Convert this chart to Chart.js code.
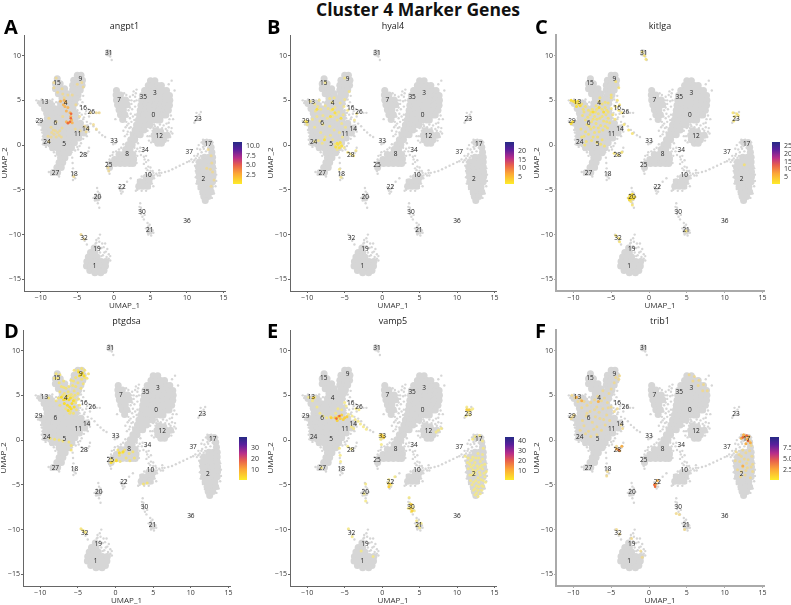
<!DOCTYPE html>
<html>
<head>
<meta charset="utf-8">
<script src="https://cdn.jsdelivr.net/npm/chart.js@4"></script>
<style>
  html, body { margin: 0; background: #fff; width: 791px; height: 605px; overflow: hidden; }
  canvas { position: absolute; }
  .suptitle { position: absolute; left: 265px; width: 306px; top: -3px; text-align: center; font: 700 17.5px "Open Sans", sans-serif; color: #111; white-space: nowrap; }
  .tag { position: absolute; font: 700 20px "Open Sans", sans-serif; color: #000; line-height: 20px; }
</style>
</head>
<body>
<div class="suptitle">Cluster 4 Marker Genes</div>
<script>
// 1. Data in UMAP units

const clusterIds = ["31","9","15","3","35","7","13","4","16","26","0","23","29","6","14","11","12","33","24","17","5","34","37","28","8","25","27","18","10","2","22","20","30","36","21","32","19","1"];
const clusterX = [-0.7,-4.6,-7.8,5.6,4.0,0.7,-9.45,-6.6,-4.2,-3.1,5.4,11.5,-10.2,-8,-3.85,-4.95,6.2,0,-9.15,12.9,-6.8,4.25,10.3,-4.2,1.8,-0.7,-8,-5.45,4.65,12.25,1.1,-2.25,3.85,10,4.9,-4.1,-2.3,-2.65];
const clusterY = [10.23,7.4,6.9,5.77,5.4,5,4.8,4.65,4.1,3.65,3.4,2.95,2.65,2.4,1.8,1.2,1,0.45,0.3,0.1,0.07,-0.55,-0.75,-1.1,-1.05,-2.2,-3.1,-3.25,-3.4,-3.8,-4.75,-5.8,-7.5,-8.5,-9.5,-10.4,-11.6,-13.5];

// solid parts of the clusters
const grayBlob = [
  // 0 and 3
  [5,7.2],[5.6,7.2],[4.7,6.65],[5.35,6.65],[6,6.65],[6.5,6.65],[4.2,6.1],[4.85,6.1],[5.5,6.1],[6.15,6.1],[6.8,6.1],[7.2,6.1],
  [3.9,5.55],[4.55,5.55],[5.2,5.55],[5.85,5.55],[6.5,5.55],[7.15,5.55],[7.6,5.55],[3.8,5],[4.45,5],[5.1,5],[5.75,5],[6.4,5],[7.05,5],[7.65,5],
  [3.7,4.45],[4.35,4.45],[5,4.45],[5.65,4.45],[6.3,4.45],[6.95,4.45],[7.6,4.45],[3.6,3.9],[4.25,3.9],[4.9,3.9],[5.55,3.9],[6.2,3.9],[6.85,3.9],[7.45,3.9],
  [3.5,3.35],[4.15,3.35],[4.8,3.35],[5.45,3.35],[6.1,3.35],[6.75,3.35],[7.1,3.35],[3.35,2.8],[4,2.8],[4.65,2.8],[5.3,2.8],[5.95,2.8],[6.3,2.8],
  [3.1,2.25],[3.75,2.25],[4.4,2.25],[4.9,2.25],[2.9,1.7],[3.55,1.7],[4.1,1.7],[2.65,1.15],[3.2,1.15],[3.6,1.15],[2.3,0.6],[2.85,0.6],[1.95,0.05],[2.5,0.05],
  // 8 and 25
  [1.6,-0.5],[2.2,-0.5],[0.7,-1.05],[1.3,-1.05],[1.95,-1.05],[2.6,-1.05],[0.1,-1.6],[0.75,-1.6],[1.4,-1.6],[2.05,-1.6],[2.7,-1.6],
  [-0.4,-2.05],[0.2,-2.05],[0.85,-2.05],[1.5,-2.05],[2.15,-2.05],[2.6,-2.05],[-0.6,-2.5],
  // 7
  [0.35,6.1],[0.3,5.6],[0.9,5.6],[0.35,5.05],[1,5.05],[1.6,5.05],[0.5,4.5],[1.15,4.5],[1.8,4.5],[0.7,3.95],[1.3,3.95],[0.9,3.4],[1.5,3.4],[1.2,2.85],
  // 12
  [5.8,1.6],[6.4,1.5],[5.5,1.1],[6.1,1.1],[6.7,1.1],[7.3,1.1],[5.6,0.6],[6.2,0.6],[6.8,0.6],[6,0.2],[6.5,0.2],
  // 2 and 17
  [12.5,0.3],[13.1,0.3],[13.3,-0.25],[13.4,-0.8],[12.4,-1.35],[13,-1.35],[13.5,-1.35],[11.7,-1.9],[12.35,-1.9],[13,-1.9],[13.5,-1.9],
  [11.55,-2.45],[12.2,-2.45],[12.85,-2.45],[13.5,-2.45],[11.6,-3],[12.25,-3],[12.9,-3],[13.55,-3],[11.65,-3.55],[12.3,-3.55],[12.95,-3.55],[13.55,-3.55],
  [11.7,-4.1],[12.35,-4.1],[13,-4.1],[13.5,-4.1],[11.9,-4.65],[12.55,-4.65],[13.2,-4.65],[12.15,-5.2],[12.75,-5.2],[13.3,-5.2],[12.3,-5.75],[12.9,-5.75],[12.5,-6.2],
  // 10
  [4.4,-3.6],[5,-3.6],[3.6,-4.1],[4.2,-4.1],[4.8,-4.1],[3.4,-4.6],[4,-4.6],[4.6,-4.6],
  // 20, 31, 21
  [-2.3,-5.9],[-0.75,10.3],[4.9,-9.6],
  // 1
  [-2.7,-11.5],[-3.2,-12],[-2.6,-12],[-3.5,-12.5],[-2.9,-12.5],[-2.3,-12.5],[-3.7,-13],[-3.05,-13],[-2.4,-13],[-1.75,-13],[-1.1,-13],
  [-3.75,-13.5],[-3.1,-13.5],[-2.45,-13.5],[-1.8,-13.5],[-1.15,-13.5],[-3.3,-14],[-2.65,-14],[-2,-14],[-1.35,-14],[-2.6,-14.25],[-1.8,-14.25],
  // 9
  [-5,7.8],[-4.5,7.8],[-5.5,7.25],[-4.85,7.25],[-4.3,7.25],[-5.65,6.7],[-5,6.7],[-4.35,6.7],[-5.65,6.15],[-5,6.15],[-4.6,6.15],[-5.5,5.6],[-4.9,5.6],
  // 15
  [-7.75,7.4],[-8,6.85],[-7.35,6.85],[-8,6.3],[-7.35,6.3],[-6.75,6.3],[-7.6,5.75],[-6.95,5.75],[-6.4,5.75],
  // 4, 13, 6, 5 and the rest of the left mass
  [-7.1,5.2],[-6.45,5.2],[-5.8,5.2],[-5.15,5.2],[-9.9,4.65],[-9.25,4.65],[-8.7,4.65],[-7.3,4.65],[-6.65,4.65],[-6,4.65],[-5.35,4.65],
  [-9.5,4.1],[-8.85,4.1],[-8.2,4.1],[-7.55,4.1],[-6.9,4.1],[-6.25,4.1],[-5.6,4.1],[-9.2,3.55],[-8.55,3.55],[-7.9,3.55],[-7.25,3.55],[-6.6,3.55],[-5.95,3.55],[-5.3,3.55],
  [-9.1,3],[-8.45,3],[-7.8,3],[-7.15,3],[-6.5,3],[-5.85,3],[-5.3,3],[-9.8,2.45],[-9.15,2.45],[-8.5,2.45],[-7.85,2.45],[-7.2,2.45],[-6.55,2.45],[-5.9,2.45],[-5.25,2.45],[-4.6,2.45],
  [-9.45,1.9],[-8.8,1.9],[-8.15,1.9],[-7.5,1.9],[-6.85,1.9],[-6.2,1.9],[-5.55,1.9],[-4.9,1.9],[-4.25,1.9],[-3.8,1.9],
  [-9.3,1.35],[-8.65,1.35],[-8,1.35],[-7.35,1.35],[-6.7,1.35],[-6.05,1.35],[-5.4,1.35],[-4.75,1.35],[-4.1,1.35],
  [-9.3,0.8],[-8.65,0.8],[-8,0.8],[-7.35,0.8],[-6.7,0.8],[-6.05,0.8],[-5.4,0.8],[-4.8,0.8],[-9.3,0.25],[-8.65,0.25],[-8,0.25],[-7.35,0.25],[-6.7,0.25],[-6.05,0.25],[-5.4,0.25],
  [-8.4,-0.3],[-7.75,-0.3],[-7.1,-0.3],[-6.45,-0.3],[-5.8,-0.3],[-7.5,-0.85],[-6.9,-0.85],[-6.2,-0.85],[-7.3,-1.4],[-6.7,-1.4],[-7.5,-1.95],[-7,-1.95],[-7.8,-2.5],[-7.2,-2.5],[-8.3,-3.05],[-7.7,-3.05]
];

// thin tails and speckle around the clusters
const graySpeck = [
  [-5,3.9],[-4.6,4.4],[-4.3,4.8],[-4,4.3],[-3.8,3.8],[-4.4,3.4],[-4.8,3],[-4.2,2.9],[-3.7,2.6],[-3.4,3.2],[-4.6,5.1],[-4.2,5.5],
  [-5,4.6],[-4.7,3.6],[-4.4,4],[-4.1,3.1],[-3.9,3.5],[-3.5,4],[-4.9,3.3],[-4.3,2.5],[-3.6,2.2],[-3.4,1.5],[-3.7,1],[-4.2,0.7],[-4.5,0.2],[-4.7,-0.1],
  [-3.3,3.7],[-2.9,3.7],[-2.5,3.6],[-2.1,3.6],[-3.2,2.4],[-2.8,2.1],[-2.4,1.7],[-2,1.4],[-1.6,1.1],[-1.2,0.9],
  [-10.6,5],[-10.3,4.9],[-10.6,2.7],[-10.3,2.3],[-9.9,1.7],[-9.7,1],[-8.9,-0.1],
  [-10.4,4.7],[-9.9,5.1],[-9.3,5],[-8.8,5],[-8.2,4.6],[-7.9,4.8],[-8.4,5.1],[-9.8,1.4],[-9.8,0.6],[-9.7,0.1],[-9.3,-0.2],[-8.6,-0.5],[-8.2,-0.8],[-8,-1.2],[-5.3,-0.6],[-5,-0.2],
  [-5.8,-0.8],[-5.7,-1.4],[-5.65,-2],[-5.6,-2.6],[-5.55,-3.1],[-5.5,-3.5],[-5.3,-3.7],[-5.6,-3.9],[-5.4,-3.3],[-5.7,-3.4],
  [-4.9,-0.5],[-4.5,-0.8],[-4.2,-1],[-3.8,-1.2],[-3.5,-0.7],[-3.4,-0.3],[-3.7,-0.9],[-8.9,-3],[-8.6,-3.3],[-7.5,-3.5],[-7.7,-3.3],
  [0.2,2.9],[1.7,2.6],[1.9,3.2],[2,3.9],[2.4,4.6],[2.8,4.9],[2.5,4],[2.9,3.4],[2.1,5],[2.4,2.6],[2.1,1.9],[1.9,1.5],[2.6,3.2],[1.8,2.2],
  [2.2,5.4],[2.6,5.6],[3,5.8],[3.1,5],[2.9,4.3],[2.2,4.2],[2.3,3.5],[2.8,2.8],[2.2,3],[1.6,2],[2,2.4],[2.3,2],[1.8,1.2],[1.5,1],[2.3,1.4],[1.3,1.6],[3.1,6.2],[2.7,6],[1.7,5.6],[1.4,5.8],[2.4,5],[2.9,5.4],[2.1,4.6],
  [7.6,2.9],[7.2,2.4],[6.8,2.2],[6.3,2.3],[5.6,2.1],[5.3,1.6],[7.8,1.5],[7.7,0.9],[8,1.3],[4.9,1],[7.4,0.5],[8.3,6.1],[7.5,6.8],[7.9,7.2],
  [5.5,2.3],[5,1.9],[4.6,1.6],[5.4,1.9],[6,2],[6.6,1.9],[7.1,1.8],[7.5,2],[7.3,1.6],[7.9,1.9],[4.6,1],[4.8,0.5],[5.1,0.3],[7.5,2.5],[8.1,2.9],[7.8,3.3],
  [-0.7,-2.9],[-0.6,-3.2],[-1,-1.9],[-0.5,-1.2],[-0.1,-0.8],[0.4,0.4],[-0.2,0.5],[0.2,0.2],[-0.1,0.1],
  [-0.6,-1.6],[-0.2,-1.1],[0.3,-0.7],[0.7,-0.5],[1,-0.3],[1.3,0.1],[3,-1.4],[3.1,-2],[3.2,-1.2],[3,-0.7],[2.8,-0.3],
  [11.1,2.7],[11.5,2.9],[11.7,3.4],[11.3,3.6],[11.9,3.7],[11,2.5],[11.4,3.2],[11.8,2.9],
  [12.2,-0.2],[12,-0.8],[11.5,-1],[11.2,-1.5],[11.9,-1.2],[12.6,-0.7],[12.9,-0.3],[11,-1.7],[10.6,-1.6],[11.4,-0.4],
  [12.3,-0.4],[12.5,-0.1],[11.8,-0.5],[12.1,-1.5],[11.7,-1.4],[11.4,-1.2],[11,-1.2],[10.8,-1.9],[11.3,-1.9],[11.6,0],[12,0.3],[12.2,0.6],[12.7,0.6],[13.5,0.3],[11.1,-2.3],[11.2,-2.9],[11.2,-3.6],[11.3,-4.3],[11.6,-4.9],[11.9,-5.5],[13.9,-2.6],[14,-3.3],[14,-4],[13.9,-4.6],[13.7,-5.4],[13.4,-5.9],
  [3.3,0.2],[3.6,-0.3],[4,-0.7],[4.1,-1.3],[4.4,-1.9],[4.7,-2.4],[5,-2.9],[5.4,-3.1],[5.8,-3.2],[6.2,-3.1],[4.2,-1.6],[4.6,-2.8],[5.1,-3.3],[3,0.6],
  [3.2,-0.4],[3.5,-0.7],[3.7,-1.1],[4.4,-1.2],[4.7,-1.7],[4.1,-2.1],[4.4,-2.6],[5,-2.5],[5.3,-2.9],[4.8,-3.2],[5.5,-3.4],[6,-3.4],[6.3,-3.4],[6.2,-2.8],[3,-5.1],[3.3,-3.9],[3.8,-3.5],[5.4,-4.6],
  [6.5,-3.1],[7,-3],[7.5,-2.9],[8,-2.7],[8.5,-2.5],[9,-2.3],[9.5,-2.1],[10,-1.9],[10.3,-1.8],
  [3.2,-5],[3.8,-5.1],[4.4,-5.1],[4.9,-4.8],[5.2,-4.3],[5.5,-3.7],
  [1.1,-4.9],[1,-5.4],[0.7,-4.7],[1.4,-4.5],[1.8,-4.1],[2.3,-3.7],[0.9,-5.1],[1.2,-5.2],[0.8,-4.9],[1.3,-4.8],
  [-2.2,-5.2],[-2.3,-4.8],[-2.2,-6.5],[-2,-7],[-2.8,-5.9],[-1.8,-5.8],[-2.5,-5.5],[-2,-5.4],[-2.6,-6.2],
  [3.6,-6.5],[3.7,-7],[3.8,-7.5],[3.9,-8],[4.1,-8.3],[3.5,-7.3],[4.2,-7.8],[3.7,-7.7],[3.5,-6.9],
  [4.6,-8.7],[4.7,-9.1],[4.4,-9.3],[5.3,-9.5],[5.4,-9.8],[4.7,-10],[5.1,-10.1],[4.9,-8.9],
  [-0.5,9.9],[-0.3,9.5],[-0.9,10.6],[-0.5,10.5],
  [-4.5,-10],[-4.2,-10.3],[-4,-10.7],[-3.7,-11.1],[-3.8,-10.5],[10,-8.5],
  [-1.9,-10],[-2.1,-10.4],[-2,-10.8],[-2.4,-10.9],[-1.7,-11.5],[-1.3,-12],[-1,-12.5],[-1.5,-12.3],[-0.9,-11.6],[-1.9,-12],[-0.7,-12.7],[-1.2,-11],
  [-1.6,-11],[-2,-11.5],[-1.4,-11.4],[-1.1,-11.9],[-0.7,-12.2],[-0.5,-12.4],[-1.7,-12.4],[-2.1,-11.3],[-2.4,-10.6],[-0.5,-12.9],[-2.5,-11]
];

const angpt1Low = [[-7.9,7.5],[-8.2,7],[-8.2,6.4],[-7.7,5.9],[-7.1,6.3],[-7,5.7],[-6.8,5.3],[-8.6,2],[-8.3,1.7],[-8,1.6],[-7.7,1.4],[-7.4,1.6],[-8.2,1.2],[-7.5,1.1],[-7.9,2.6],[-9,1],[-8.9,0.4],[-8.6,0.9],[-7.9,0.9],[-7.1,1.9],[-3.8,1.5],[-3.6,1.9],[-4,2.1],[-5,6.8],[-4.4,7],[-4.2,6.5],[-5.7,5.6],[-0.8,-2.5],[-0.7,-2.9],[12.9,-0.5],[13.3,-1.2],[13.4,-2],[13.5,-3],[13.7,-3.9],[13.3,-4.6],[12.7,-2.6],[13.2,-2.7],[-3.2,3.6],[-2.4,3.6],[-2,3.6],[-2.8,2.3],[-2.4,1.8],[-4.5,-10],[-4.1,-10.5],[-5.5,-3.5],[-8.5,1.4],[-7.2,0.9],[-8.9,3],[-5.3,1.8],[-4.6,1.6],[-7,3.2],[-6.3,5.6],[-5.2,4.5],[-4.7,3.2]];
const angpt1Mid = [[-6.6,4.8],[-6.7,4.3],[-6.5,3.8],[-6,3.6],[-5.9,3.2],[-5.8,2.8],[-6.2,2.5],[-6.5,2.6],[-5.7,2.5],[-6.9,4.5],[-6.3,4.2],[-6.8,5],[-7.3,4.9]];
const angpt1High = [[-5.9,3],[-6,2.6],[-5.85,3.5],[-6.3,2.45]];

const hyal4Low = [[-9.6,4.9],[-9,4.6],[-8.6,4.3],[-8.2,4],[-7.6,4.4],[-7.2,4.1],[-6.8,3.9],[-6.3,4.2],[-5.8,3.7],[-5.2,3.4],[-7.9,3.3],[-7.3,3],[-6.6,3.2],[-6,2.8],[-5.4,2.4],[-8.7,3.2],[-10.3,2.7],[-10,2.3],[-9,2],[-8.2,1.4],[-7.6,0.9],[-6.9,1.1],[-6.6,0.6],[-6.3,0.1],[-5.9,-0.2],[-5.5,0.1],[-5.1,-0.3],[-6,-0.5],[-4.6,-0.8],[-4.2,-1],[-3.8,-1.2],[-3.5,-0.6],[-5.5,-3.6],[-5.7,-2.7],[-7.6,7],[-4.4,6],[-5,7.5],[-6.4,5.3],[-3.7,2.8],[-3.4,3.5],[-5,5.1],[-7,5.2],[-8.5,0.5],[-9,0.4],[-4.9,2],[-6.7,4.8],[-4.6,3.9],[-5.6,4.7],[-8.9,3.8],[-7.9,2.3],[-7,2.1],[-5.7,1.4],[-5.3,0.9],[-6.4,1.7],[-8.3,2.7],[-5.1,4.3],[-6.1,3.4],[-8.4,5],[-9.3,2.9],[-8,0.2]];
const hyal4Mid = [[-8.7,4],[-6.9,3.2],[-5.9,0.1],[-5.7,-0.3],[-6,0.2],[-6.2,-0.2],[-7.7,0.6],[-10.1,2.6],[-6.3,3.6],[-5.5,3],[-5.4,-0.1],[-5.6,0.3],[-6.6,4]];

const kitlgaLow = [[-8.9,4.6],[-8.4,4.3],[-8,3.9],[-7.5,4],[-7,4.4],[-6.6,4.9],[-6.2,4.6],[-5.8,4.2],[-5.4,4.7],[-5,4.1],[-7.8,3.4],[-7.2,3.2],[-6.7,3.5],[-6.2,3.2],[-5.7,3.4],[-5.4,3],[-8.8,3.3],[-8.4,2.8],[-7.6,2.6],[-7,2.4],[-6.4,2.2],[-5.8,2.1],[-5.2,2.5],[-9,1.8],[-8.4,1.5],[-7.7,1.8],[-7.2,1.4],[-6.6,1.5],[-8.9,0.9],[-8.3,0.4],[-7.6,0.5],[-6.9,0.3],[-6.4,0.1],[-5.9,-0.1],[-4.4,4.3],[-4,3.9],[-3.6,3.6],[-3.3,2.3],[-2.7,1.7],[-2.2,1.3],[-4.6,-0.9],[-4.1,-1.1],[-3.6,-0.8],[-4,6.4],[-4.4,7.1],[-5,5.3],[-0.6,10],[-0.4,9.6],[-0.9,10.4],[11.3,3.2],[11.1,3.6],[11.6,3.5],[11.8,3.3],[11.2,2.7],[-2.4,-6.3],[-2.2,-6.7],[-4.4,-10.1],[-4,-10.4],[-3.9,-10.8],[4.9,-9.6],[12.6,-2.2],[-8.6,3.7],[-8.1,3.1],[-7.4,2.9],[-6.9,2.9],[-6.5,3],[-6,2.7],[-5.6,2.6],[-5.4,3.7],[-7.1,3.7],[-7.7,3.7],[-8.7,4],[-8.2,2.3],[-7.9,2.1],[-7.3,2],[-6.7,1.9],[-6.1,1.7],[-5.5,1.9],[-8,1.2],[-8.6,1],[-7.4,0.9],[-6.8,0.9],[-6.2,0.6],[-5.8,4.8],[-6.5,5.3],[-6.9,4],[-6.2,4],[-5.6,3.9],[-8.5,0],[-4.8,3.4],[-4.5,2.9],[-5,5.6],[-3.9,4.5],[-4.2,5]];
const kitlgaMid = [[-10.3,5],[-10,4.9],[-9.7,4.7],[-9.4,4.9],[-9.1,4.4],[-9.6,4.3],[-10.1,2.6],[-10.3,2.4],[-2.7,-5.9],[-2.5,-5.6],[-2.1,-6],[-2.4,-6],[-1.9,-5.8],[-2.2,-5.5],[-6.6,4.2],[-7.4,3.7],[-6,3.7],[-2.6,-6.1],[-2.2,-5.9],[-2.3,-5.7],[-9.3,4.6],[-9.8,4.9]];

const ptgdsaLow = [[-7.9,7.4],[-8.1,6.9],[-7.5,6.4],[-7.2,6],[-6.9,6.6],[-6.6,5.8],[-6.3,5.4],[-5.9,5.1],[-5.5,5.5],[-5.7,6.1],[-5.6,6.6],[-5.3,7],[-3.8,6.9],[-3.6,7.4],[-4.1,7.8],[-4.5,8],[-5.5,7.8],[-4.3,6.3],[-4.6,5.8],[-5,5.2],[-5.3,4.2],[-4.9,4.6],[-4.8,3.9],[-5.2,3.4],[-5.6,3],[-6,3.2],[-8.7,0.2],[-8.1,0.1],[-7.5,0],[-7,-0.1],[-6.2,-0.2],[-5.9,-0.6],[-5.9,-1.1],[-0.6,-2.1],[-0.3,-2.4],[0.1,-2.2],[0.5,-1.7],[0.9,-1.4],[1.4,-2],[1.9,-2.3],[2.5,-2],[1.2,-1.1],[0.6,-2.4],[-4.3,-10.1],[-4.6,-9.9],[-4,-10.3],[3.7,-4.9],[4.2,-4.8],[-7.4,3.9],[-7.9,4.4],[-8.9,4.7],[-7.7,6.9],[-7.4,7.3],[-6.9,5.9],[-7.4,5.4],[-6.8,5.2],[-6.2,6],[-5.9,6.7],[-5,7.8],[-5,6.4],[-4.5,6.8],[-4.1,7],[-5.3,6],[-5.4,5],[-7.6,4.7],[-7,5],[-6.2,5],[-5.7,4.8],[-5.4,4.5],[-6.6,3.5],[-6.1,3],[1.8,-1.5],[2.3,-1.3],[0.3,-1.1]];
const ptgdsaMid = [[-4.6,7.3],[-4.9,7.6],[-4.4,7.5],[-7.2,4.8],[-6.9,4.5],[-6.5,4.9],[-6.2,4.5],[-6.4,3.9],[-6.1,3.7],[-5.8,4.1],[-5.9,3.5],[-5.5,3.7],[-6.8,4.1],[0.5,-1.4],[1,-1.3],[0.1,-2.3],[-0.6,-2.5],[-6,4.7],[-5.6,4.4],[-4.8,7.2],[-4.2,7.2],[-6.6,4.6],[-6.3,3.3]];

const vamp5Low = [[-9.8,4.8],[-9.3,4.4],[-9,4.8],[-8.7,3.7],[-8.3,3],[-7.9,2.7],[-7.4,2.5],[-6.9,2.6],[-6.2,3],[-5.9,3.5],[-5.4,3.4],[-5,4.2],[-4.8,3.8],[-4.5,2.9],[-4,2.7],[-3.6,2.3],[-3.2,2.1],[-2.9,1.8],[-2.5,1.5],[-2.1,1.2],[-4.1,1.5],[-3.8,1.3],[-3.5,3.5],[-3.1,3.4],[-5.7,-0.9],[-5.6,-1.7],[-5.55,-2.4],[-4.6,-0.7],[-4.1,-1],[-8.1,-3.1],[-0.3,0.5],[0.2,0.5],[-0.1,-0.5],[-0.2,0.1],[11.2,2.7],[11.5,3.1],[11.3,3.7],[11.9,3.4],[12.1,3.5],[11.7,2.8],[7.5,1.1],[7.9,1.3],[7.2,0.9],[0.8,-4.8],[1.2,-5],[0.9,-4.4],[1.7,-4.1],[3.6,-6.4],[3.7,-7.1],[3.5,-7.6],[3.9,-8],[4.1,-7.5],[4.3,-7.9],[4.7,-9.5],[5,-9.8],[5.2,-9.3],[4.6,-9],[-2.2,-4.9],[-2.4,-6],[-2.2,-6.8],[-4.5,-9.9],[-4,-10.8],[12.4,0.4],[13,0.5],[12.1,0.1],[13.4,-0.1],[13.5,-0.9],[13.4,-1.6],[12.8,-1.5],[12.1,-1.9],[11.5,-2],[11.1,-1.8],[11.7,-2.7],[12.4,-2.5],[13.1,-2.4],[13.7,-2.7],[11.5,-3.2],[12.1,-3.3],[12.8,-3.2],[13.4,-3.2],[13.9,-3.5],[11.7,-3.9],[12.4,-3.8],[13.1,-3.9],[13.7,-4.1],[11.8,-4.5],[12.5,-4.5],[13.2,-4.4],[13.8,-4.7],[12,-5],[12.6,-5.1],[13.3,-5.1],[12.2,-5.6],[12.8,-5.6],[13.3,-5.6],[12.4,-6.1],[12.8,-6.3],[12,-2.2],[12.7,-2.9],[13.3,-2.8],[12.2,-3.6],[12.9,-4.7],[-1.2,-13],[-2.8,-12.4],[11.8,-2.3],[12.5,-2],[13.4,-2.1],[11.9,-3],[12.5,-3.4],[13.1,-3],[13.6,-3.7],[12,-3.9],[12.8,-4.2],[13.5,-4.5],[12.2,-4.7],[12.9,-5.2],[13.5,-5.2],[12.4,-5.4],[12.6,-5.9],[13.1,-6],[12.9,-2],[12.2,-2.8],[11.4,-2.5],[13,-3.6]];
const vamp5Mid = [[-6.8,2.5],[-6.3,2.5],[-5.9,2.6],[-5.6,2.4],[-5.4,2.8],[-5.2,2.3],[-5,2.5],[-4.7,2.6],[-6,2.2],[-9.2,4.7],[0,0.4],[0.2,0.3],[-0.1,0.6],[3.8,-7.6],[3.9,-7.2],[4,-7.9],[1,-4.9],[0.9,-5.2],[11.6,3.4],[11.3,3.4]];
const vamp5High = [[-6.1,2.4],[-5.7,2.7]];

const trib1Low = [[-10.2,5],[-9.8,4.7],[-9.4,4.3],[-9.1,4.6],[-8.6,4.3],[-8.2,3.9],[-7.7,4.2],[-7.2,4.5],[-6.8,4.9],[-6.3,4.4],[-5.9,4.7],[-5.5,4.2],[-5,3.7],[-4.6,3.2],[-4.2,3.5],[-7.8,3.2],[-7.2,3.4],[-6.6,3.1],[-6.1,3.5],[-5.6,2.8],[-5.2,2.2],[-8.8,2.2],[-8.3,2.7],[-7.5,2],[-6.9,1.5],[-6.3,1.1],[-5.8,1.7],[-9.1,1.1],[-8.4,0.7],[-7.7,0.4],[-6.9,0.6],[-10.1,2.6],[-10.3,2.4],[-9.9,2.8],[-4.4,7],[-4,6.8],[-3.9,7.2],[-4.6,6.4],[-5,5.7],[-5.3,5.2],[-6.1,5.5],[-3.7,1.7],[-3.5,1.3],[-4.3,-0.7],[-5.5,-3.5],[-5.6,-4],[-4.3,-10],[-3.9,-10.5],[5.3,7.3],[6,7.1],[6.6,6.7],[7.2,6.2],[7.7,5.5],[5.8,6.6],[6.5,6.1],[7.1,5.5],[11.5,-1.3],[11.9,-1.6],[12.4,-1.1],[12.8,-1.4],[13.3,-1.2],[13.6,-1.8],[11.4,-2.3],[12,-2.4],[12.6,-2.1],[13.1,-2.2],[13.7,-2.7],[11.7,-3.3],[12.4,-3],[13,-3.1],[13.7,-3.5],[12.1,-4.1],[12.7,-3.9],[13.4,-4.2],[3.6,-8.2],[4,-8.3],[4.7,-10],[13.5,-0.6],[13.3,-0.1],[-2.3,-11],[-1.1,-12.4],[-0.9,-13.1],[-8.9,3.6],[-8.2,3],[-6.9,3.7],[-6.5,2.4],[-6,2.3],[-5.4,3.6],[-7.1,2.6],[-8.6,1.6],[-8,1],[-7.3,1.2],[12.2,-1.8],[12.9,-2.6],[13.5,-3],[12.2,-3.5],[12.8,-3.4]];
const trib1Mid = [[12.2,0.2],[12.5,0.6],[12.7,0.4],[13,0.1],[13.2,0.4],[13.4,-0.3],[12.8,-0.4],[-9.6,4.8],[-8.9,4.4],[-4.3,-1],[-3.9,-1.2],[-3.6,-0.7],[-6.7,4.3],[12.4,-2.9],[0.9,-4.9],[1.1,-4.5]];
const trib1High = [[12.4,0.3],[12.9,0.5],[13.1,-0.1],[0.8,-5.2],[0.7,-5],[-4,-1.1]];

// colour bars: value range and tick labels
const angpt1Range = [0.2, 11], angpt1Ticks = [2.5, 5, 7.5, 10];
const hyal4Range = [0.8, 25.2], hyal4Ticks = [5, 10, 15, 20];
const kitlgaRange = [0.5, 27.6], kitlgaTicks = [5, 10, 15, 20, 25];
const ptgdsaRange = [0.3, 40.3], ptgdsaTicks = [10, 20, 30];
const vamp5Range = [0.3, 44.5], vamp5Ticks = [10, 20, 30, 40];
const trib1Range = [0.1, 10], trib1Ticks = [2.5, 5, 7.5];

const panels = [
  { tag: "A", gene: "angpt1", left: 23.9, top: 34.7, width: 201.3, height: 256.3, axis: "#666", axisW: 1, low: angpt1Low, mid: angpt1Mid, high: angpt1High, midColor: "#f6b65c", lowColor: "rgba(240,216,140,0.8)", range: angpt1Range, ticks: angpt1Ticks, fixed: 1, bar: [233, 142, 9, 42], tagX: 4, tagY: 17 },
  { tag: "B", gene: "hyal4", left: 290.3, top: 34.7, width: 206, height: 256.3, axis: "#666", axisW: 1, low: hyal4Low, mid: hyal4Mid, high: [], midColor: "#f8e04a", lowColor: "rgba(244,228,130,0.8)", range: hyal4Range, ticks: hyal4Ticks, fixed: 0, bar: [505, 142, 9, 42], tagX: 267, tagY: 17 },
  { tag: "C", gene: "kitlga", left: 556.4, top: 34.7, width: 207.6, height: 256.3, axis: "#aaa", axisW: 2, low: kitlgaLow, mid: kitlgaMid, high: [], midColor: "#f7dc3c", lowColor: "rgba(244,224,110,0.85)", range: kitlgaRange, ticks: kitlgaTicks, fixed: 0, bar: [772, 142, 8, 42], tagX: 535, tagY: 17 },
  { tag: "D", gene: "ptgdsa", left: 23.4, top: 330.1, width: 206.8, height: 256.3, axis: "#666", axisW: 1, low: ptgdsaLow, mid: ptgdsaMid, high: [], midColor: "#f8dc30", lowColor: "rgba(244,226,110,0.85)", range: ptgdsaRange, ticks: ptgdsaTicks, fixed: 0, bar: [239, 437, 8, 43], tagX: 4, tagY: 321 },
  { tag: "E", gene: "vamp5", left: 290.3, top: 330.1, width: 206, height: 256.3, axis: "#666", axisW: 1, low: vamp5Low, mid: vamp5Mid, high: vamp5High, midColor: "#f8d040", lowColor: "rgba(244,232,130,0.85)", range: vamp5Range, ticks: vamp5Ticks, fixed: 0, bar: [505, 437, 9, 43], tagX: 267, tagY: 321 },
  { tag: "F", gene: "trib1", left: 556.4, top: 330.1, width: 207.6, height: 256.3, axis: "#aaa", axisW: 2, low: trib1Low, mid: trib1Mid, high: trib1High, midColor: "#f6b04a", lowColor: "rgba(240,216,140,0.85)", range: trib1Range, ticks: trib1Ticks, fixed: 1, bar: [770, 437, 9, 43], tagX: 535, tagY: 321 }
];

// 2. Helpers
const FONT = '"Open Sans", sans-serif';
const INK = "#333";
const toPoints = list => list.map(p => ({ x: p[0], y: p[1] }));

const clusterLabels = {
  id: "clusterLabels",
  afterDatasetsDraw(chart) {
    const { ctx, scales } = chart;
    ctx.save();
    ctx.font = "6.5px " + FONT;
    ctx.fillStyle = "#222";
    ctx.textAlign = "center";
    ctx.textBaseline = "middle";
    clusterIds.forEach((id, i) => {
      ctx.fillText(id, scales.x.getPixelForValue(clusterX[i]), scales.y.getPixelForValue(clusterY[i]));
    });
    ctx.restore();
  }
};

function dots(data, color, radius) {
  return { data: toPoints(data), backgroundColor: color, borderWidth: 0, pointRadius: radius, pointHoverRadius: radius };
}

function drawPanel(p) {
  const yw = 24, xh = 20, pad = 14, right = 10;
  const canvas = document.createElement("canvas");
  const w = Math.round(p.width + yw + right), h = Math.round(p.height + pad + xh);
  canvas.width = w;
  canvas.height = h;
  canvas.style.left = Math.round(p.left - yw) + "px";
  canvas.style.top = Math.round(p.top - pad) + "px";
  document.body.appendChild(canvas);

  const tag = document.createElement("div");
  tag.className = "tag";
  tag.textContent = p.tag;
  tag.style.left = p.tagX + "px";
  tag.style.top = p.tagY + "px";
  document.body.appendChild(tag);

  const axisOpts = {
    border: { color: p.axis, width: p.axisW },
    grid: { drawOnChartArea: false, drawTicks: true, tickLength: 2, color: p.axis },
    ticks: { stepSize: 5, includeBounds: false, autoSkip: false, maxRotation: 0, padding: 1, color: INK,
             font: { size: 7, family: FONT }, callback: v => String(v).replace("-", "\u2212") }
  };

  new Chart(canvas, {
    type: "scatter",
    data: { datasets: [
      dots(p.high, "#ee6a3a", 1.3),
      dots(p.mid, p.midColor, 1.5),
      dots(p.low, p.lowColor, 1.5),
      dots(graySpeck, "#d6d6d6", 1.2),
      dots(grayBlob, "#d6d6d6", 3.5)
    ] },
    options: {
      responsive: false, animation: false, events: [],
      layout: { padding: { top: 0, right: right, bottom: 0, left: 0 } },
      plugins: {
        legend: { display: false }, tooltip: { enabled: false },
        title: { display: true, text: p.gene, fullSize: false, color: "#222",
                 font: { size: 9, family: FONT, weight: "normal" }, padding: { top: 0, bottom: 3.2 } }
      },
      scales: {
        x: { ...axisOpts, type: "linear", min: -12.3, max: 15.2,
             title: { display: true, text: "UMAP_1", color: INK, font: { size: 8, family: FONT }, padding: 0 },
             afterFit(s) { s.height = xh; s.paddingLeft = 0; s.paddingRight = 0; } },
        y: { ...axisOpts, type: "linear", min: -16.3, max: 12.3,
             title: { display: true, text: "UMAP_2", color: INK, font: { size: 8, family: FONT }, padding: 0 },
             afterFit(s) { s.width = yw; s.paddingTop = 0; s.paddingBottom = 0; } }
      }
    },
    plugins: [clusterLabels]
  });

  drawColorBar(p);
}

function drawColorBar(p) {
  const [x, y, bw, bh] = p.bar;
  const labelW = Math.min(791 - x - bw, 24);
  const canvas = document.createElement("canvas");
  canvas.width = bw + labelW;
  canvas.height = bh;
  canvas.style.left = x + "px";
  canvas.style.top = y + "px";
  document.body.appendChild(canvas);

  const plasma = ctx => {
    const area = ctx.chart.chartArea;
    if (!area) return "#fde725";
    const g = ctx.chart.ctx.createLinearGradient(0, area.bottom, 0, area.top);
    g.addColorStop(0, "#fdec2a");
    g.addColorStop(0.25, "#fca636");
    g.addColorStop(0.45, "#e8604c");
    g.addColorStop(0.62, "#b82d8a");
    g.addColorStop(0.82, "#5a1f9c");
    g.addColorStop(1, "#252a85");
    return g;
  };

  new Chart(canvas, {
    type: "bar",
    data: { labels: [p.gene], datasets: [{ data: [p.range], backgroundColor: plasma, borderWidth: 0, barPercentage: 1, categoryPercentage: 1 }] },
    options: {
      responsive: false, animation: false, events: [],
      layout: { padding: 0 },
      plugins: { legend: { display: false }, tooltip: { enabled: false } },
      scales: {
        x: { display: false },
        y: {
          position: "right", min: p.range[0], max: p.range[1],
          border: { display: false }, grid: { display: false, drawTicks: false },
          afterBuildTicks(s) { s.ticks = p.ticks.map(v => ({ value: v })); },
          ticks: { autoSkip: false, padding: 4, color: INK, font: { size: 7, family: FONT },
                   callback: v => p.fixed ? v.toFixed(1) : String(v) },
          afterFit(s) { s.width = labelW; s.paddingTop = 0; s.paddingBottom = 0; }
        }
      }
    }
  });
}

// 3. Draw
panels.forEach(drawPanel);
</script>
</body>
</html>
